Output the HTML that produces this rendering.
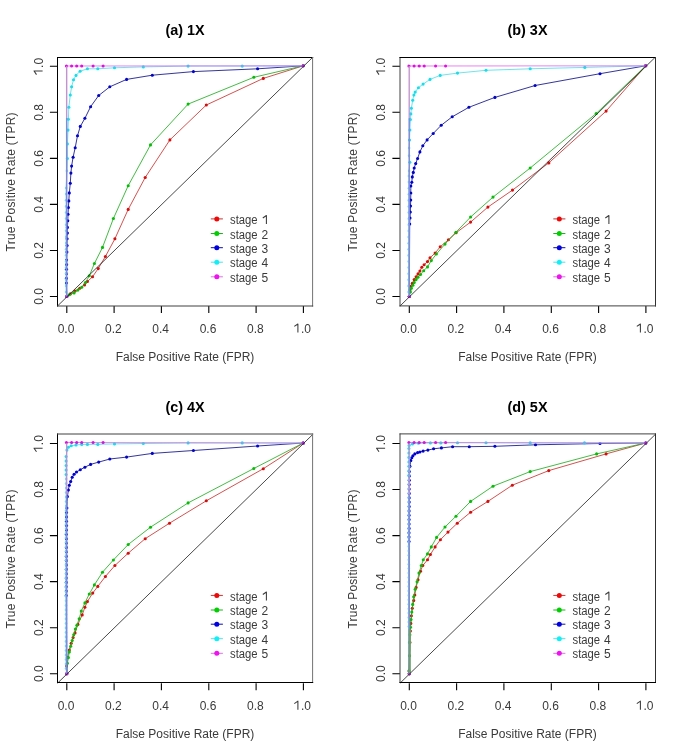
<!DOCTYPE html>
<html><head><meta charset="utf-8"><style>
html,body{margin:0;padding:0;background:#fff;}
svg{display:block;will-change:transform;}
.t{font-family:"Liberation Sans",sans-serif;font-size:12px;fill:#3a3a3a;}
.b{font-family:"Liberation Sans",sans-serif;font-size:14.4px;font-weight:bold;fill:#000;}
</style></head><body>
<svg width="685" height="754" viewBox="0 0 685 754">
<defs><filter id="jc" x="-20" y="-20" width="725" height="794" filterUnits="userSpaceOnUse" color-interpolation-filters="sRGB">
<feColorMatrix in="SourceGraphic" type="matrix" values="0.299 0.587 0.114 0 0 0.299 0.587 0.114 0 0 0.299 0.587 0.114 0 0 0 0 0 1 0" result="Y"/>
<feColorMatrix in="SourceGraphic" type="matrix" values="0.3505 -0.2935 -0.057 0 0.50196 -0.1495 0.2065 -0.057 0 0.50196 -0.1495 -0.2935 0.443 0 0.50196 0 0 0 1 0" result="C"/>
<feGaussianBlur in="C" stdDeviation="0.8" result="Cb"/>
<feComposite in="Y" in2="Cb" operator="arithmetic" k1="0" k2="1" k3="2" k4="-1.00392"/>
</filter></defs>
<g filter="url(#jc)">
<rect x="-20" y="-20" width="725" height="794" fill="#fff"/>
<g transform="translate(0,0)">
<polyline fill="none" stroke="#d03030" stroke-width="0.85" points="66.8,296.5 70.3,293.9 75,291 79.8,288.2 84.5,284.9 87.4,281.5 92.5,276.8 98.2,268.6 105.4,256.5 114.9,238.8 128.2,209.4 145.2,177.5 169.9,139.9 206.3,105 263.3,78.4 303.2,65.8"/>
<g fill="#e00808"><circle cx="66.8" cy="296.5" r="1.55"/><circle cx="70.3" cy="293.9" r="1.55"/><circle cx="75" cy="291" r="1.55"/><circle cx="79.8" cy="288.2" r="1.55"/><circle cx="84.5" cy="284.9" r="1.55"/><circle cx="87.4" cy="281.5" r="1.55"/><circle cx="92.5" cy="276.8" r="1.55"/><circle cx="98.2" cy="268.6" r="1.55"/><circle cx="105.4" cy="256.5" r="1.55"/><circle cx="114.9" cy="238.8" r="1.55"/><circle cx="128.2" cy="209.4" r="1.55"/><circle cx="145.2" cy="177.5" r="1.55"/><circle cx="169.9" cy="139.9" r="1.55"/><circle cx="206.3" cy="105" r="1.55"/><circle cx="263.3" cy="78.4" r="1.55"/><circle cx="303.2" cy="65.8" r="1.55"/></g>
<polyline fill="none" stroke="#20b020" stroke-width="0.85" points="66.8,296.5 69.3,294.8 74.1,292.9 77.9,290.1 81.7,287.2 85.5,282.5 89.3,275.8 94.4,263.5 102.5,247.4 113.4,218.5 128.2,185.7 150.5,144.9 188.1,104.1 253.8,77.3 303.2,65.8"/>
<g fill="#00c000"><circle cx="66.8" cy="296.5" r="1.55"/><circle cx="69.3" cy="294.8" r="1.55"/><circle cx="74.1" cy="292.9" r="1.55"/><circle cx="77.9" cy="290.1" r="1.55"/><circle cx="81.7" cy="287.2" r="1.55"/><circle cx="85.5" cy="282.5" r="1.55"/><circle cx="89.3" cy="275.8" r="1.55"/><circle cx="94.4" cy="263.5" r="1.55"/><circle cx="102.5" cy="247.4" r="1.55"/><circle cx="113.4" cy="218.5" r="1.55"/><circle cx="128.2" cy="185.7" r="1.55"/><circle cx="150.5" cy="144.9" r="1.55"/><circle cx="188.1" cy="104.1" r="1.55"/><circle cx="253.8" cy="77.3" r="1.55"/><circle cx="303.2" cy="65.8" r="1.55"/></g>
<polyline fill="none" stroke="#101090" stroke-width="0.85" points="66.8,296.5 66.4,283 66.4,278.4 66.5,273.8 66.5,269.2 66.6,264.6 66.6,260 66.9,252.1 67.1,245.5 67.1,238.8 67.4,233.1 67.4,227.4 67.8,220.8 68,214.2 68.4,207.5 68.8,200.9 69.3,192.9 70.3,183.2 70.9,173.1 71.6,166.1 73.1,157.2 75.2,147.7 77.5,135.7 80.3,126.4 84.9,118.3 90.6,106.7 98.7,95.5 109.8,86.8 126.6,79.4 152.3,75.2 193.4,71.6 257.6,68.8 303.2,65.8"/>
<g fill="#0000d8"><circle cx="66.8" cy="296.5" r="1.55"/><circle cx="66.4" cy="283" r="1.55"/><circle cx="66.4" cy="278.4" r="1.55"/><circle cx="66.5" cy="273.8" r="1.55"/><circle cx="66.5" cy="269.2" r="1.55"/><circle cx="66.6" cy="264.6" r="1.55"/><circle cx="66.6" cy="260" r="1.55"/><circle cx="66.9" cy="252.1" r="1.55"/><circle cx="67.1" cy="245.5" r="1.55"/><circle cx="67.1" cy="238.8" r="1.55"/><circle cx="67.4" cy="233.1" r="1.55"/><circle cx="67.4" cy="227.4" r="1.55"/><circle cx="67.8" cy="220.8" r="1.55"/><circle cx="68" cy="214.2" r="1.55"/><circle cx="68.4" cy="207.5" r="1.55"/><circle cx="68.8" cy="200.9" r="1.55"/><circle cx="69.3" cy="192.9" r="1.55"/><circle cx="70.3" cy="183.2" r="1.55"/><circle cx="70.9" cy="173.1" r="1.55"/><circle cx="71.6" cy="166.1" r="1.55"/><circle cx="73.1" cy="157.2" r="1.55"/><circle cx="75.2" cy="147.7" r="1.55"/><circle cx="77.5" cy="135.7" r="1.55"/><circle cx="80.3" cy="126.4" r="1.55"/><circle cx="84.9" cy="118.3" r="1.55"/><circle cx="90.6" cy="106.7" r="1.55"/><circle cx="98.7" cy="95.5" r="1.55"/><circle cx="109.8" cy="86.8" r="1.55"/><circle cx="126.6" cy="79.4" r="1.55"/><circle cx="152.3" cy="75.2" r="1.55"/><circle cx="193.4" cy="71.6" r="1.55"/><circle cx="257.6" cy="68.8" r="1.55"/><circle cx="303.2" cy="65.8" r="1.55"/></g>
<polyline fill="none" stroke="#50e0ec" stroke-width="0.85" points="66.8,296.5 66.1,292 66.1,285.9 66.1,279.8 66.1,273.6 66.1,267.5 66.1,261.4 66.1,255.3 66.1,249.2 66.1,243.1 66.1,236.9 66.1,230.8 66.1,224.7 66.1,218.6 66.1,212.5 66.1,206.4 66.1,200.2 66.1,194.1 66.1,188 66.9,170.9 67.4,158.5 67.4,143.9 68,130.1 68.4,119.2 68.8,107.3 70.3,95 71.6,86.8 73.5,79.8 76,75.4 80.1,71.2 87.4,68.8 97.8,68.8 114.5,67.8 143.3,66.9 188.1,66.1 242.2,66.1 303.2,65.8"/>
<g fill="#72d4ee"><circle cx="66.8" cy="296.5" r="1.3"/><circle cx="66.1" cy="292" r="1.3"/><circle cx="66.1" cy="285.9" r="1.3"/><circle cx="66.1" cy="279.8" r="1.3"/><circle cx="66.1" cy="273.6" r="1.3"/><circle cx="66.1" cy="267.5" r="1.3"/><circle cx="66.1" cy="261.4" r="1.3"/><circle cx="66.1" cy="255.3" r="1.3"/><circle cx="66.1" cy="249.2" r="1.3"/><circle cx="66.1" cy="243.1" r="1.3"/><circle cx="66.1" cy="236.9" r="1.3"/><circle cx="66.1" cy="230.8" r="1.3"/><circle cx="66.1" cy="224.7" r="1.3"/><circle cx="66.1" cy="218.6" r="1.3"/><circle cx="66.1" cy="212.5" r="1.3"/><circle cx="66.1" cy="206.4" r="1.3"/><circle cx="66.1" cy="200.2" r="1.3"/><circle cx="66.1" cy="194.1" r="1.3"/><circle cx="66.1" cy="188" r="1.3"/><circle cx="66.9" cy="170.9" r="1.3"/></g>
<g fill="#10e0f0"><circle cx="67.4" cy="158.5" r="1.55"/><circle cx="67.4" cy="143.9" r="1.55"/><circle cx="68" cy="130.1" r="1.55"/><circle cx="68.4" cy="119.2" r="1.55"/><circle cx="68.8" cy="107.3" r="1.55"/><circle cx="70.3" cy="95" r="1.55"/><circle cx="71.6" cy="86.8" r="1.55"/><circle cx="73.5" cy="79.8" r="1.55"/><circle cx="76" cy="75.4" r="1.55"/><circle cx="80.1" cy="71.2" r="1.55"/><circle cx="87.4" cy="68.8" r="1.55"/><circle cx="97.8" cy="68.8" r="1.55"/><circle cx="114.5" cy="67.8" r="1.55"/><circle cx="143.3" cy="66.9" r="1.55"/><circle cx="188.1" cy="66.1" r="1.55"/><circle cx="242.2" cy="66.1" r="1.55"/><circle cx="303.2" cy="65.8" r="1.55"/></g>
<polyline fill="none" stroke="#e070e8" stroke-width="0.85" points="66.7,66 303.2,65.8"/>
<g fill="#e010e0"><circle cx="66.8" cy="296.5" r="1.55"/><circle cx="66.4" cy="66" r="1.55"/><circle cx="71.6" cy="66" r="1.55"/><circle cx="76.7" cy="66" r="1.55"/><circle cx="81.7" cy="66" r="1.55"/><circle cx="93.1" cy="66" r="1.55"/><circle cx="103.1" cy="66" r="1.55"/><circle cx="303.2" cy="65.8" r="1.55"/></g>
<line x1="66.7" y1="296.5" x2="66.7" y2="118" stroke="#8088e6" stroke-width="1.5"/>
<line x1="66.7" y1="118" x2="66.7" y2="66" stroke="#c888d8" stroke-width="1.3"/>
<line x1="57.5" y1="306.0" x2="312.5" y2="57.5" stroke="#1a1a1a" stroke-width="0.8"/>
<path d="M66.8 306V313M49.9 296.5H57.5M114.1 306V313M49.9 250.5H57.5M161.4 306V313M49.9 204.4H57.5M208.8 306V313M49.9 158.4H57.5M256.1 306V313M49.9 112.3H57.5M303.4 306V313M49.9 66.3H57.5" stroke="#000" stroke-width="1.1" fill="none"/>
<text x="66" y="332.5" text-anchor="middle" class="t">0.0</text>
<text transform="translate(42.6,296.5) rotate(-90)" text-anchor="middle" class="t">0.0</text>
<text x="113.3" y="332.5" text-anchor="middle" class="t">0.2</text>
<text transform="translate(42.6,250.5) rotate(-90)" text-anchor="middle" class="t">0.2</text>
<text x="160.6" y="332.5" text-anchor="middle" class="t">0.4</text>
<text transform="translate(42.6,204.4) rotate(-90)" text-anchor="middle" class="t">0.4</text>
<text x="208" y="332.5" text-anchor="middle" class="t">0.6</text>
<text transform="translate(42.6,158.4) rotate(-90)" text-anchor="middle" class="t">0.6</text>
<text x="255.3" y="332.5" text-anchor="middle" class="t">0.8</text>
<text transform="translate(42.6,112.3) rotate(-90)" text-anchor="middle" class="t">0.8</text>
<g transform="translate(302.6,332.5) rotate(0)"><path d="M-8.3,-6.1L-4.7,-8.55V0" fill="none" stroke="#3a3a3a" stroke-width="1.05" stroke-linejoin="round"/><text x="-1.67" y="0" class="t">.0</text></g>
<g transform="translate(42.6,66.3) rotate(-90)"><path d="M-8.3,-6.1L-4.7,-8.55V0" fill="none" stroke="#3a3a3a" stroke-width="1.05" stroke-linejoin="round"/><text x="-1.67" y="0" class="t">.0</text></g>
<text x="185" y="360.7" text-anchor="middle" class="t">False Positive Rate (FPR)</text>
<text transform="translate(14.7,181.9) rotate(-90)" text-anchor="middle" class="t" textLength="139" lengthAdjust="spacing">True Positive Rate (TPR)</text>
<text x="185" y="34.5" text-anchor="middle" class="b">(a) 1X</text>
<line x1="210.8" x2="222.9" y1="218.9" y2="218.9" stroke="#d03030" stroke-width="1"/>
<circle cx="216.8" cy="218.9" r="2.5" fill="#f00808"/>
<text x="230" y="224.1" class="t" textLength="27.6" lengthAdjust="spacingAndGlyphs">stage</text><g transform="translate(0,224.1)"><path d="M262.8,-6.1L266.4,-8.55V0" fill="none" stroke="#3a3a3a" stroke-width="1.05" stroke-linejoin="round"/></g>
<line x1="210.8" x2="222.9" y1="233.5" y2="233.5" stroke="#20b020" stroke-width="1"/>
<circle cx="216.8" cy="233.5" r="2.5" fill="#00d000"/>
<text x="230" y="238.7" class="t" textLength="27.6" lengthAdjust="spacingAndGlyphs">stage</text><text x="268.2" y="238.7" class="t" text-anchor="end">2</text>
<line x1="210.8" x2="222.9" y1="247.7" y2="247.7" stroke="#101090" stroke-width="1"/>
<circle cx="216.8" cy="247.7" r="2.5" fill="#0000e8"/>
<text x="230" y="252.9" class="t" textLength="27.6" lengthAdjust="spacingAndGlyphs">stage</text><text x="268.2" y="252.9" class="t" text-anchor="end">3</text>
<line x1="210.8" x2="222.9" y1="262.2" y2="262.2" stroke="#50e0ec" stroke-width="1"/>
<circle cx="216.8" cy="262.2" r="2.5" fill="#10f0f8"/>
<text x="230" y="267.4" class="t" textLength="27.6" lengthAdjust="spacingAndGlyphs">stage</text><text x="268.2" y="267.4" class="t" text-anchor="end">4</text>
<line x1="210.8" x2="222.9" y1="276.8" y2="276.8" stroke="#e070e8" stroke-width="1"/>
<circle cx="216.8" cy="276.8" r="2.5" fill="#f010f0"/>
<text x="230" y="282" class="t" textLength="27.6" lengthAdjust="spacingAndGlyphs">stage</text><text x="268.2" y="282" class="t" text-anchor="end">5</text>
</g>
<g transform="translate(342.5,0)">
<polyline fill="none" stroke="#d03030" stroke-width="0.85" points="66.8,296.5 67.3,290 67.9,286.3 69.8,283.4 71.7,279.6 73.6,276.8 75.5,273.9 77.4,271.1 79.3,267.3 81.6,264.8 85,261.6 87.5,257.8 92.6,253.1 97.7,246.8 105.9,239.8 113.5,232.8 128.1,222.1 145.4,207.1 170,190.1 206.3,162.9 263.6,111.1 303.2,65.8"/>
<g fill="#e00808"><circle cx="66.8" cy="296.5" r="1.55"/><circle cx="67.3" cy="290" r="1.55"/><circle cx="67.9" cy="286.3" r="1.55"/><circle cx="69.8" cy="283.4" r="1.55"/><circle cx="71.7" cy="279.6" r="1.55"/><circle cx="73.6" cy="276.8" r="1.55"/><circle cx="75.5" cy="273.9" r="1.55"/><circle cx="77.4" cy="271.1" r="1.55"/><circle cx="79.3" cy="267.3" r="1.55"/><circle cx="81.6" cy="264.8" r="1.55"/><circle cx="85" cy="261.6" r="1.55"/><circle cx="87.5" cy="257.8" r="1.55"/><circle cx="92.6" cy="253.1" r="1.55"/><circle cx="97.7" cy="246.8" r="1.55"/><circle cx="105.9" cy="239.8" r="1.55"/><circle cx="113.5" cy="232.8" r="1.55"/><circle cx="128.1" cy="222.1" r="1.55"/><circle cx="145.4" cy="207.1" r="1.55"/><circle cx="170" cy="190.1" r="1.55"/><circle cx="206.3" cy="162.9" r="1.55"/><circle cx="263.6" cy="111.1" r="1.55"/><circle cx="303.2" cy="65.8" r="1.55"/></g>
<polyline fill="none" stroke="#20b020" stroke-width="0.85" points="66.8,296.5 67.9,292 68.9,288.2 70.4,285.3 71.7,282.5 73.6,279.6 75.5,277.2 78,274.5 81.2,270.7 85,266.9 88.8,260.6 93.9,254 102.5,244.1 113.5,232.2 128.1,217 150.5,197.1 187.7,168 253.7,113.5 303.2,65.8"/>
<g fill="#00c000"><circle cx="66.8" cy="296.5" r="1.55"/><circle cx="67.9" cy="292" r="1.55"/><circle cx="68.9" cy="288.2" r="1.55"/><circle cx="70.4" cy="285.3" r="1.55"/><circle cx="71.7" cy="282.5" r="1.55"/><circle cx="73.6" cy="279.6" r="1.55"/><circle cx="75.5" cy="277.2" r="1.55"/><circle cx="78" cy="274.5" r="1.55"/><circle cx="81.2" cy="270.7" r="1.55"/><circle cx="85" cy="266.9" r="1.55"/><circle cx="88.8" cy="260.6" r="1.55"/><circle cx="93.9" cy="254" r="1.55"/><circle cx="102.5" cy="244.1" r="1.55"/><circle cx="113.5" cy="232.2" r="1.55"/><circle cx="128.1" cy="217" r="1.55"/><circle cx="150.5" cy="197.1" r="1.55"/><circle cx="187.7" cy="168" r="1.55"/><circle cx="253.7" cy="113.5" r="1.55"/><circle cx="303.2" cy="65.8" r="1.55"/></g>
<polyline fill="none" stroke="#101090" stroke-width="0.85" points="66.8,296.5 67.2,224 67.5,218 67.8,212 68,206 68.2,200 68.3,193 68.3,186 69.3,182.2 69.8,176.9 70.8,172.4 71.7,168 73.2,163.6 75.1,158.5 77.4,151.9 80.3,145.8 84.6,139.9 90.7,133.5 98.7,125.3 109.7,116.8 126.4,107.3 152.4,97.4 192.6,85.5 257.5,73.7 303.2,65.8"/>
<g fill="#0000d8"><circle cx="66.8" cy="296.5" r="1.55"/><circle cx="67.2" cy="224" r="1.55"/><circle cx="67.5" cy="218" r="1.55"/><circle cx="67.8" cy="212" r="1.55"/><circle cx="68" cy="206" r="1.55"/><circle cx="68.2" cy="200" r="1.55"/><circle cx="68.3" cy="193" r="1.55"/><circle cx="68.3" cy="186" r="1.55"/><circle cx="69.3" cy="182.2" r="1.55"/><circle cx="69.8" cy="176.9" r="1.55"/><circle cx="70.8" cy="172.4" r="1.55"/><circle cx="71.7" cy="168" r="1.55"/><circle cx="73.2" cy="163.6" r="1.55"/><circle cx="75.1" cy="158.5" r="1.55"/><circle cx="77.4" cy="151.9" r="1.55"/><circle cx="80.3" cy="145.8" r="1.55"/><circle cx="84.6" cy="139.9" r="1.55"/><circle cx="90.7" cy="133.5" r="1.55"/><circle cx="98.7" cy="125.3" r="1.55"/><circle cx="109.7" cy="116.8" r="1.55"/><circle cx="126.4" cy="107.3" r="1.55"/><circle cx="152.4" cy="97.4" r="1.55"/><circle cx="192.6" cy="85.5" r="1.55"/><circle cx="257.5" cy="73.7" r="1.55"/><circle cx="303.2" cy="65.8" r="1.55"/></g>
<polyline fill="none" stroke="#50e0ec" stroke-width="0.85" points="66.8,296.5 66.1,292 66.1,285.9 66.1,279.8 66.1,273.7 66.2,267.6 66.2,261.5 66.2,255.4 66.2,249.3 66.2,243.2 66.2,237.1 66.3,230.9 66.3,224.8 66.3,218.7 66.3,212.6 66.3,206.5 66.3,200.4 66.4,194.3 66.4,188.2 66.4,182.1 66.4,176 66.6,170.9 67.4,162.3 66.6,155.7 66.6,148 67,140 67.4,130 67.9,119.6 68.3,113.9 68.9,108.2 70.2,100.3 71.4,95 72.7,92.1 75.9,87.7 80.6,84.1 87.5,79.4 97.7,75.4 115,73.1 143.5,70.3 187.7,68.8 242.3,67.4 303.2,65.8"/>
<g fill="#72d4ee"><circle cx="66.8" cy="296.5" r="1.3"/><circle cx="66.1" cy="292" r="1.3"/><circle cx="66.1" cy="285.9" r="1.3"/><circle cx="66.1" cy="279.8" r="1.3"/><circle cx="66.1" cy="273.7" r="1.3"/><circle cx="66.2" cy="267.6" r="1.3"/><circle cx="66.2" cy="261.5" r="1.3"/><circle cx="66.2" cy="255.4" r="1.3"/><circle cx="66.2" cy="249.3" r="1.3"/><circle cx="66.2" cy="243.2" r="1.3"/><circle cx="66.2" cy="237.1" r="1.3"/><circle cx="66.3" cy="230.9" r="1.3"/><circle cx="66.3" cy="224.8" r="1.3"/><circle cx="66.3" cy="218.7" r="1.3"/><circle cx="66.3" cy="212.6" r="1.3"/><circle cx="66.3" cy="206.5" r="1.3"/><circle cx="66.3" cy="200.4" r="1.3"/><circle cx="66.4" cy="194.3" r="1.3"/><circle cx="66.4" cy="188.2" r="1.3"/><circle cx="66.4" cy="182.1" r="1.3"/><circle cx="66.4" cy="176" r="1.3"/><circle cx="66.6" cy="170.9" r="1.3"/><circle cx="66.6" cy="155.7" r="1.3"/><circle cx="66.6" cy="148" r="1.3"/></g>
<g fill="#10e0f0"><circle cx="67.4" cy="162.3" r="1.55"/><circle cx="67" cy="140" r="1.55"/><circle cx="67.4" cy="130" r="1.55"/><circle cx="67.9" cy="119.6" r="1.55"/><circle cx="68.3" cy="113.9" r="1.55"/><circle cx="68.9" cy="108.2" r="1.55"/><circle cx="70.2" cy="100.3" r="1.55"/><circle cx="71.4" cy="95" r="1.55"/><circle cx="72.7" cy="92.1" r="1.55"/><circle cx="75.9" cy="87.7" r="1.55"/><circle cx="80.6" cy="84.1" r="1.55"/><circle cx="87.5" cy="79.4" r="1.55"/><circle cx="97.7" cy="75.4" r="1.55"/><circle cx="115" cy="73.1" r="1.55"/><circle cx="143.5" cy="70.3" r="1.55"/><circle cx="187.7" cy="68.8" r="1.55"/><circle cx="242.3" cy="67.4" r="1.55"/><circle cx="303.2" cy="65.8" r="1.55"/></g>
<polyline fill="none" stroke="#e070e8" stroke-width="0.85" points="66.7,66 303.2,65.8"/>
<g fill="#e010e0"><circle cx="66.8" cy="296.5" r="1.55"/><circle cx="66.4" cy="66" r="1.55"/><circle cx="71.6" cy="66" r="1.55"/><circle cx="76.7" cy="66" r="1.55"/><circle cx="81.7" cy="66" r="1.55"/><circle cx="93.1" cy="66" r="1.55"/><circle cx="103.1" cy="66" r="1.55"/><circle cx="303.2" cy="65.8" r="1.55"/></g>
<line x1="66.7" y1="296.5" x2="66.7" y2="118" stroke="#8088e6" stroke-width="1.5"/>
<line x1="66.7" y1="118" x2="66.7" y2="66" stroke="#c888d8" stroke-width="1.3"/>
<line x1="57.5" y1="306.0" x2="312.5" y2="57.5" stroke="#1a1a1a" stroke-width="0.8"/>
<path d="M66.8 306V313M49.9 296.5H57.5M114.1 306V313M49.9 250.5H57.5M161.4 306V313M49.9 204.4H57.5M208.8 306V313M49.9 158.4H57.5M256.1 306V313M49.9 112.3H57.5M303.4 306V313M49.9 66.3H57.5" stroke="#000" stroke-width="1.1" fill="none"/>
<text x="66" y="332.5" text-anchor="middle" class="t">0.0</text>
<text transform="translate(42.6,296.5) rotate(-90)" text-anchor="middle" class="t">0.0</text>
<text x="113.3" y="332.5" text-anchor="middle" class="t">0.2</text>
<text transform="translate(42.6,250.5) rotate(-90)" text-anchor="middle" class="t">0.2</text>
<text x="160.6" y="332.5" text-anchor="middle" class="t">0.4</text>
<text transform="translate(42.6,204.4) rotate(-90)" text-anchor="middle" class="t">0.4</text>
<text x="208" y="332.5" text-anchor="middle" class="t">0.6</text>
<text transform="translate(42.6,158.4) rotate(-90)" text-anchor="middle" class="t">0.6</text>
<text x="255.3" y="332.5" text-anchor="middle" class="t">0.8</text>
<text transform="translate(42.6,112.3) rotate(-90)" text-anchor="middle" class="t">0.8</text>
<g transform="translate(302.6,332.5) rotate(0)"><path d="M-8.3,-6.1L-4.7,-8.55V0" fill="none" stroke="#3a3a3a" stroke-width="1.05" stroke-linejoin="round"/><text x="-1.67" y="0" class="t">.0</text></g>
<g transform="translate(42.6,66.3) rotate(-90)"><path d="M-8.3,-6.1L-4.7,-8.55V0" fill="none" stroke="#3a3a3a" stroke-width="1.05" stroke-linejoin="round"/><text x="-1.67" y="0" class="t">.0</text></g>
<text x="185" y="360.7" text-anchor="middle" class="t">False Positive Rate (FPR)</text>
<text transform="translate(14.7,181.9) rotate(-90)" text-anchor="middle" class="t" textLength="139" lengthAdjust="spacing">True Positive Rate (TPR)</text>
<text x="185" y="34.5" text-anchor="middle" class="b">(b) 3X</text>
<line x1="210.8" x2="222.9" y1="218.9" y2="218.9" stroke="#d03030" stroke-width="1"/>
<circle cx="216.8" cy="218.9" r="2.5" fill="#f00808"/>
<text x="230" y="224.1" class="t" textLength="27.6" lengthAdjust="spacingAndGlyphs">stage</text><g transform="translate(0,224.1)"><path d="M262.8,-6.1L266.4,-8.55V0" fill="none" stroke="#3a3a3a" stroke-width="1.05" stroke-linejoin="round"/></g>
<line x1="210.8" x2="222.9" y1="233.5" y2="233.5" stroke="#20b020" stroke-width="1"/>
<circle cx="216.8" cy="233.5" r="2.5" fill="#00d000"/>
<text x="230" y="238.7" class="t" textLength="27.6" lengthAdjust="spacingAndGlyphs">stage</text><text x="268.2" y="238.7" class="t" text-anchor="end">2</text>
<line x1="210.8" x2="222.9" y1="247.7" y2="247.7" stroke="#101090" stroke-width="1"/>
<circle cx="216.8" cy="247.7" r="2.5" fill="#0000e8"/>
<text x="230" y="252.9" class="t" textLength="27.6" lengthAdjust="spacingAndGlyphs">stage</text><text x="268.2" y="252.9" class="t" text-anchor="end">3</text>
<line x1="210.8" x2="222.9" y1="262.2" y2="262.2" stroke="#50e0ec" stroke-width="1"/>
<circle cx="216.8" cy="262.2" r="2.5" fill="#10f0f8"/>
<text x="230" y="267.4" class="t" textLength="27.6" lengthAdjust="spacingAndGlyphs">stage</text><text x="268.2" y="267.4" class="t" text-anchor="end">4</text>
<line x1="210.8" x2="222.9" y1="276.8" y2="276.8" stroke="#e070e8" stroke-width="1"/>
<circle cx="216.8" cy="276.8" r="2.5" fill="#f010f0"/>
<text x="230" y="282" class="t" textLength="27.6" lengthAdjust="spacingAndGlyphs">stage</text><text x="268.2" y="282" class="t" text-anchor="end">5</text>
</g>
<g transform="translate(0,377.2)">
<polyline fill="none" stroke="#d03030" stroke-width="0.85" points="66.8,296.5 66.5,288.9 67.4,280.4 69.3,272.8 71.2,266.1 73.1,260.4 75,255.7 77.9,247.2 82.2,237.7 84.9,230.1 87.4,224.4 92.7,215.9 97.8,209.2 105.4,199.3 114.9,188.3 128.2,176 145.2,161.5 169.5,146 206.3,123.6 263.3,91.5 303.2,65.8"/>
<g fill="#e00808"><circle cx="66.8" cy="296.5" r="1.55"/><circle cx="66.5" cy="288.9" r="1.55"/><circle cx="67.4" cy="280.4" r="1.55"/><circle cx="69.3" cy="272.8" r="1.55"/><circle cx="71.2" cy="266.1" r="1.55"/><circle cx="73.1" cy="260.4" r="1.55"/><circle cx="75" cy="255.7" r="1.55"/><circle cx="77.9" cy="247.2" r="1.55"/><circle cx="82.2" cy="237.7" r="1.55"/><circle cx="84.9" cy="230.1" r="1.55"/><circle cx="87.4" cy="224.4" r="1.55"/><circle cx="92.7" cy="215.9" r="1.55"/><circle cx="97.8" cy="209.2" r="1.55"/><circle cx="105.4" cy="199.3" r="1.55"/><circle cx="114.9" cy="188.3" r="1.55"/><circle cx="128.2" cy="176" r="1.55"/><circle cx="145.2" cy="161.5" r="1.55"/><circle cx="169.5" cy="146" r="1.55"/><circle cx="206.3" cy="123.6" r="1.55"/><circle cx="263.3" cy="91.5" r="1.55"/><circle cx="303.2" cy="65.8" r="1.55"/></g>
<polyline fill="none" stroke="#20b020" stroke-width="0.85" points="66.8,296.5 67.4,286.1 68.4,280.4 69.3,274.7 70.7,269 72.2,263.3 73.7,257.6 75.4,251.9 76.9,248.1 79.2,241.5 81.3,233.9 84.9,225.7 89.3,216.8 94.4,207.7 102.5,195 113.4,182.8 128.2,167.3 150.5,150 188.1,125.7 253.8,91.3 303.2,65.8"/>
<g fill="#00c000"><circle cx="66.8" cy="296.5" r="1.55"/><circle cx="67.4" cy="286.1" r="1.55"/><circle cx="68.4" cy="280.4" r="1.55"/><circle cx="69.3" cy="274.7" r="1.55"/><circle cx="70.7" cy="269" r="1.55"/><circle cx="72.2" cy="263.3" r="1.55"/><circle cx="73.7" cy="257.6" r="1.55"/><circle cx="75.4" cy="251.9" r="1.55"/><circle cx="76.9" cy="248.1" r="1.55"/><circle cx="79.2" cy="241.5" r="1.55"/><circle cx="81.3" cy="233.9" r="1.55"/><circle cx="84.9" cy="225.7" r="1.55"/><circle cx="89.3" cy="216.8" r="1.55"/><circle cx="94.4" cy="207.7" r="1.55"/><circle cx="102.5" cy="195" r="1.55"/><circle cx="113.4" cy="182.8" r="1.55"/><circle cx="128.2" cy="167.3" r="1.55"/><circle cx="150.5" cy="150" r="1.55"/><circle cx="188.1" cy="125.7" r="1.55"/><circle cx="253.8" cy="91.3" r="1.55"/><circle cx="303.2" cy="65.8" r="1.55"/></g>
<polyline fill="none" stroke="#101090" stroke-width="0.85" points="66.8,296.5 66.3,218.3 66.3,213.9 66.3,209.6 66.3,205.2 66.3,200.8 66.4,196.5 66.4,192.1 66.4,187.7 66.4,183.3 66.4,179 66.4,174.6 66.4,170.2 66.4,165.9 66.4,161.5 66.4,157.1 66.5,152.8 66.5,148.4 66.5,144 66.5,139.7 66.5,135.3 66.9,130.8 67.4,119.4 68.4,112.8 69.3,108 70.7,104.3 72.2,100.1 74.1,97 76.5,94.8 80.3,92.5 84.9,90 90.6,87.2 98.7,84.9 109.8,81.8 126.6,79.9 152.3,76.2 193.4,73.3 257.6,68.8 303.2,65.8"/>
<g fill="#0000d8"><circle cx="66.8" cy="296.5" r="1.55"/><circle cx="66.3" cy="218.3" r="1.55"/><circle cx="66.3" cy="213.9" r="1.55"/><circle cx="66.3" cy="209.6" r="1.55"/><circle cx="66.3" cy="205.2" r="1.55"/><circle cx="66.3" cy="200.8" r="1.55"/><circle cx="66.4" cy="196.5" r="1.55"/><circle cx="66.4" cy="192.1" r="1.55"/><circle cx="66.4" cy="187.7" r="1.55"/><circle cx="66.4" cy="183.3" r="1.55"/><circle cx="66.4" cy="179" r="1.55"/><circle cx="66.4" cy="174.6" r="1.55"/><circle cx="66.4" cy="170.2" r="1.55"/><circle cx="66.4" cy="165.9" r="1.55"/><circle cx="66.4" cy="161.5" r="1.55"/><circle cx="66.4" cy="157.1" r="1.55"/><circle cx="66.5" cy="152.8" r="1.55"/><circle cx="66.5" cy="148.4" r="1.55"/><circle cx="66.5" cy="144" r="1.55"/><circle cx="66.5" cy="139.7" r="1.55"/><circle cx="66.5" cy="135.3" r="1.55"/><circle cx="66.9" cy="130.8" r="1.55"/><circle cx="67.4" cy="119.4" r="1.55"/><circle cx="68.4" cy="112.8" r="1.55"/><circle cx="69.3" cy="108" r="1.55"/><circle cx="70.7" cy="104.3" r="1.55"/><circle cx="72.2" cy="100.1" r="1.55"/><circle cx="74.1" cy="97" r="1.55"/><circle cx="76.5" cy="94.8" r="1.55"/><circle cx="80.3" cy="92.5" r="1.55"/><circle cx="84.9" cy="90" r="1.55"/><circle cx="90.6" cy="87.2" r="1.55"/><circle cx="98.7" cy="84.9" r="1.55"/><circle cx="109.8" cy="81.8" r="1.55"/><circle cx="126.6" cy="79.9" r="1.55"/><circle cx="152.3" cy="76.2" r="1.55"/><circle cx="193.4" cy="73.3" r="1.55"/><circle cx="257.6" cy="68.8" r="1.55"/><circle cx="303.2" cy="65.8" r="1.55"/></g>
<polyline fill="none" stroke="#50e0ec" stroke-width="0.85" points="66.8,296.5 66,291.3 66,286.8 66,282.3 66,277.8 66,273.3 66,268.8 66,264.2 66,259.7 66,255.2 66,250.7 66,246.2 66,241.7 66,237.2 66,232.7 66,228.2 66,223.6 66,219.1 66,214.6 66,210.1 66,205.6 66,201.1 66,196.6 66,192.1 66,187.6 66.1,183 66.1,178.5 66.1,174 66.1,169.5 66.1,165 66.1,160.5 66.1,156 66.1,151.5 66.1,147 66.1,142.4 66.1,137.9 66.1,133.4 66.1,128.9 66.1,124.4 66.1,119.9 66.1,115.4 66.1,110.9 66.1,106.4 66.1,101.8 66.1,97.3 66.1,92.8 66.1,88.3 66.1,83.8 66.1,79.3 66.9,72.9 68.4,70.1 71.2,68.6 76,67.8 81.7,67.2 87.4,67.2 97.8,67.2 114.5,66.7 143.3,66.3 188.1,65.7 242.2,65.7 303.2,65.8"/>
<g fill="#72d4ee"><circle cx="66.8" cy="296.5" r="1.3"/><circle cx="66" cy="291.3" r="1.3"/><circle cx="66" cy="286.8" r="1.3"/><circle cx="66" cy="282.3" r="1.3"/><circle cx="66" cy="277.8" r="1.3"/><circle cx="66" cy="273.3" r="1.3"/><circle cx="66" cy="268.8" r="1.3"/><circle cx="66" cy="264.2" r="1.3"/><circle cx="66" cy="259.7" r="1.3"/><circle cx="66" cy="255.2" r="1.3"/><circle cx="66" cy="250.7" r="1.3"/><circle cx="66" cy="246.2" r="1.3"/><circle cx="66" cy="241.7" r="1.3"/><circle cx="66" cy="237.2" r="1.3"/><circle cx="66" cy="232.7" r="1.3"/><circle cx="66" cy="228.2" r="1.3"/><circle cx="66" cy="223.6" r="1.3"/><circle cx="66" cy="219.1" r="1.3"/><circle cx="66" cy="214.6" r="1.3"/><circle cx="66" cy="210.1" r="1.3"/><circle cx="66" cy="205.6" r="1.3"/><circle cx="66" cy="201.1" r="1.3"/><circle cx="66" cy="196.6" r="1.3"/><circle cx="66" cy="192.1" r="1.3"/><circle cx="66" cy="187.6" r="1.3"/><circle cx="66.1" cy="183" r="1.3"/><circle cx="66.1" cy="178.5" r="1.3"/><circle cx="66.1" cy="174" r="1.3"/><circle cx="66.1" cy="169.5" r="1.3"/><circle cx="66.1" cy="165" r="1.3"/><circle cx="66.1" cy="160.5" r="1.3"/><circle cx="66.1" cy="156" r="1.3"/><circle cx="66.1" cy="151.5" r="1.3"/><circle cx="66.1" cy="147" r="1.3"/><circle cx="66.1" cy="142.4" r="1.3"/><circle cx="66.1" cy="137.9" r="1.3"/><circle cx="66.1" cy="133.4" r="1.3"/><circle cx="66.1" cy="128.9" r="1.3"/><circle cx="66.1" cy="124.4" r="1.3"/><circle cx="66.1" cy="119.9" r="1.3"/><circle cx="66.1" cy="115.4" r="1.3"/><circle cx="66.1" cy="110.9" r="1.3"/><circle cx="66.1" cy="106.4" r="1.3"/><circle cx="66.1" cy="101.8" r="1.3"/></g>
<g fill="#10e0f0"><circle cx="66.1" cy="97.3" r="1.55"/><circle cx="66.1" cy="92.8" r="1.55"/><circle cx="66.1" cy="88.3" r="1.55"/><circle cx="66.1" cy="83.8" r="1.55"/><circle cx="66.1" cy="79.3" r="1.55"/><circle cx="66.9" cy="72.9" r="1.55"/><circle cx="68.4" cy="70.1" r="1.55"/><circle cx="71.2" cy="68.6" r="1.55"/><circle cx="76" cy="67.8" r="1.55"/><circle cx="81.7" cy="67.2" r="1.55"/><circle cx="87.4" cy="67.2" r="1.55"/><circle cx="97.8" cy="67.2" r="1.55"/><circle cx="114.5" cy="66.7" r="1.55"/><circle cx="143.3" cy="66.3" r="1.55"/><circle cx="188.1" cy="65.7" r="1.55"/><circle cx="242.2" cy="65.7" r="1.55"/><circle cx="303.2" cy="65.8" r="1.55"/></g>
<polyline fill="none" stroke="#e070e8" stroke-width="0.85" points="66.7,65.3 303.2,65.8"/>
<g fill="#e010e0"><circle cx="66.8" cy="296.5" r="1.55"/><circle cx="66.4" cy="65.3" r="1.55"/><circle cx="71.6" cy="65.3" r="1.55"/><circle cx="76.7" cy="65.3" r="1.55"/><circle cx="81.7" cy="65.3" r="1.55"/><circle cx="93.1" cy="65.3" r="1.55"/><circle cx="103.1" cy="65.3" r="1.55"/><circle cx="303.2" cy="65.8" r="1.55"/></g>
<line x1="66.7" y1="296.5" x2="66.7" y2="118" stroke="#8088e6" stroke-width="1.5"/>
<line x1="66.7" y1="118" x2="66.7" y2="66" stroke="#c888d8" stroke-width="1.3"/>
<line x1="57.5" y1="306.0" x2="312.5" y2="57.5" stroke="#1a1a1a" stroke-width="0.8"/>
<path d="M66.8 306V313M49.9 296.5H57.5M114.1 306V313M49.9 250.5H57.5M161.4 306V313M49.9 204.4H57.5M208.8 306V313M49.9 158.4H57.5M256.1 306V313M49.9 112.3H57.5M303.4 306V313M49.9 66.3H57.5" stroke="#000" stroke-width="1.1" fill="none"/>
<text x="66" y="332.5" text-anchor="middle" class="t">0.0</text>
<text transform="translate(42.6,296.5) rotate(-90)" text-anchor="middle" class="t">0.0</text>
<text x="113.3" y="332.5" text-anchor="middle" class="t">0.2</text>
<text transform="translate(42.6,250.5) rotate(-90)" text-anchor="middle" class="t">0.2</text>
<text x="160.6" y="332.5" text-anchor="middle" class="t">0.4</text>
<text transform="translate(42.6,204.4) rotate(-90)" text-anchor="middle" class="t">0.4</text>
<text x="208" y="332.5" text-anchor="middle" class="t">0.6</text>
<text transform="translate(42.6,158.4) rotate(-90)" text-anchor="middle" class="t">0.6</text>
<text x="255.3" y="332.5" text-anchor="middle" class="t">0.8</text>
<text transform="translate(42.6,112.3) rotate(-90)" text-anchor="middle" class="t">0.8</text>
<g transform="translate(302.6,332.5) rotate(0)"><path d="M-8.3,-6.1L-4.7,-8.55V0" fill="none" stroke="#3a3a3a" stroke-width="1.05" stroke-linejoin="round"/><text x="-1.67" y="0" class="t">.0</text></g>
<g transform="translate(42.6,66.3) rotate(-90)"><path d="M-8.3,-6.1L-4.7,-8.55V0" fill="none" stroke="#3a3a3a" stroke-width="1.05" stroke-linejoin="round"/><text x="-1.67" y="0" class="t">.0</text></g>
<text x="185" y="360.7" text-anchor="middle" class="t">False Positive Rate (FPR)</text>
<text transform="translate(14.7,181.9) rotate(-90)" text-anchor="middle" class="t" textLength="139" lengthAdjust="spacing">True Positive Rate (TPR)</text>
<text x="185" y="34.5" text-anchor="middle" class="b">(c) 4X</text>
<line x1="210.8" x2="222.9" y1="218.2" y2="218.2" stroke="#d03030" stroke-width="1"/>
<circle cx="216.8" cy="218.2" r="2.5" fill="#f00808"/>
<text x="230" y="223.4" class="t" textLength="27.6" lengthAdjust="spacingAndGlyphs">stage</text><g transform="translate(0,223.4)"><path d="M262.8,-6.1L266.4,-8.55V0" fill="none" stroke="#3a3a3a" stroke-width="1.05" stroke-linejoin="round"/></g>
<line x1="210.8" x2="222.9" y1="232.8" y2="232.8" stroke="#20b020" stroke-width="1"/>
<circle cx="216.8" cy="232.8" r="2.5" fill="#00d000"/>
<text x="230" y="238" class="t" textLength="27.6" lengthAdjust="spacingAndGlyphs">stage</text><text x="268.2" y="238" class="t" text-anchor="end">2</text>
<line x1="210.8" x2="222.9" y1="247.0" y2="247.0" stroke="#101090" stroke-width="1"/>
<circle cx="216.8" cy="247.0" r="2.5" fill="#0000e8"/>
<text x="230" y="252.2" class="t" textLength="27.6" lengthAdjust="spacingAndGlyphs">stage</text><text x="268.2" y="252.2" class="t" text-anchor="end">3</text>
<line x1="210.8" x2="222.9" y1="261.5" y2="261.5" stroke="#50e0ec" stroke-width="1"/>
<circle cx="216.8" cy="261.5" r="2.5" fill="#10f0f8"/>
<text x="230" y="266.7" class="t" textLength="27.6" lengthAdjust="spacingAndGlyphs">stage</text><text x="268.2" y="266.7" class="t" text-anchor="end">4</text>
<line x1="210.8" x2="222.9" y1="276.1" y2="276.1" stroke="#e070e8" stroke-width="1"/>
<circle cx="216.8" cy="276.1" r="2.5" fill="#f010f0"/>
<text x="230" y="281.3" class="t" textLength="27.6" lengthAdjust="spacingAndGlyphs">stage</text><text x="268.2" y="281.3" class="t" text-anchor="end">5</text>
</g>
<g transform="translate(342.5,377.2)">
<polyline fill="none" stroke="#d03030" stroke-width="0.85" points="66.8,296.5 66.6,293.7 67,278.5 67.4,265.2 67.9,253.8 68.3,246.2 68.9,238.6 69.8,231 71.2,223.4 72.3,217.8 73.6,210.2 75.5,202.6 78,194 80.3,188.3 85,182.6 87.9,177.3 92.6,169.7 97.9,162.5 105.5,154.9 114.8,146 128.1,135 145.4,124.2 169.8,108 206.3,93.4 263.6,76.7 303.2,65.8"/>
<g fill="#e00808"><circle cx="66.8" cy="296.5" r="1.55"/><circle cx="66.6" cy="293.7" r="1.55"/><circle cx="67" cy="278.5" r="1.55"/><circle cx="67.4" cy="265.2" r="1.55"/><circle cx="67.9" cy="253.8" r="1.55"/><circle cx="68.3" cy="246.2" r="1.55"/><circle cx="68.9" cy="238.6" r="1.55"/><circle cx="69.8" cy="231" r="1.55"/><circle cx="71.2" cy="223.4" r="1.55"/><circle cx="72.3" cy="217.8" r="1.55"/><circle cx="73.6" cy="210.2" r="1.55"/><circle cx="75.5" cy="202.6" r="1.55"/><circle cx="78" cy="194" r="1.55"/><circle cx="80.3" cy="188.3" r="1.55"/><circle cx="85" cy="182.6" r="1.55"/><circle cx="87.9" cy="177.3" r="1.55"/><circle cx="92.6" cy="169.7" r="1.55"/><circle cx="97.9" cy="162.5" r="1.55"/><circle cx="105.5" cy="154.9" r="1.55"/><circle cx="114.8" cy="146" r="1.55"/><circle cx="128.1" cy="135" r="1.55"/><circle cx="145.4" cy="124.2" r="1.55"/><circle cx="169.8" cy="108" r="1.55"/><circle cx="206.3" cy="93.4" r="1.55"/><circle cx="263.6" cy="76.7" r="1.55"/><circle cx="303.2" cy="65.8" r="1.55"/></g>
<polyline fill="none" stroke="#20b020" stroke-width="0.85" points="66.8,296.5 66.6,293.7 67,278.5 67,265.2 67.4,257.6 68,250 68.5,242.4 69.3,234.8 70.2,227.2 71.2,219.6 72.7,212.1 74.6,204.5 76.5,195.9 78.8,188.3 80.8,182.6 85,176.7 88.8,169.7 94.1,160.2 102.5,149.8 113.5,139 128.1,124.2 150.5,109 187.7,94.4 254.1,76.7 303.2,65.8"/>
<g fill="#00c000"><circle cx="66.8" cy="296.5" r="1.55"/><circle cx="66.6" cy="293.7" r="1.55"/><circle cx="67" cy="278.5" r="1.55"/><circle cx="67" cy="265.2" r="1.55"/><circle cx="67.4" cy="257.6" r="1.55"/><circle cx="68" cy="250" r="1.55"/><circle cx="68.5" cy="242.4" r="1.55"/><circle cx="69.3" cy="234.8" r="1.55"/><circle cx="70.2" cy="227.2" r="1.55"/><circle cx="71.2" cy="219.6" r="1.55"/><circle cx="72.7" cy="212.1" r="1.55"/><circle cx="74.6" cy="204.5" r="1.55"/><circle cx="76.5" cy="195.9" r="1.55"/><circle cx="78.8" cy="188.3" r="1.55"/><circle cx="80.8" cy="182.6" r="1.55"/><circle cx="85" cy="176.7" r="1.55"/><circle cx="88.8" cy="169.7" r="1.55"/><circle cx="94.1" cy="160.2" r="1.55"/><circle cx="102.5" cy="149.8" r="1.55"/><circle cx="113.5" cy="139" r="1.55"/><circle cx="128.1" cy="124.2" r="1.55"/><circle cx="150.5" cy="109" r="1.55"/><circle cx="187.7" cy="94.4" r="1.55"/><circle cx="254.1" cy="76.7" r="1.55"/><circle cx="303.2" cy="65.8" r="1.55"/></g>
<polyline fill="none" stroke="#101090" stroke-width="0.85" points="66.8,296.5 66.5,164.3 66.5,159.9 66.5,155.6 66.6,151.2 66.6,146.8 66.6,142.4 66.6,138.1 66.6,133.7 66.7,129.3 66.7,124.9 66.7,120.5 66.7,116.2 66.7,111.8 66.7,107.4 66.8,103 66.8,98.7 66.8,94.3 67.4,89.1 68.3,83.4 69.3,80.5 70.4,78.6 72.3,76.7 75.1,75.4 77.4,74.8 80.6,73.9 85.4,72.9 91.1,71.6 98.9,70.7 110.1,69.5 126.8,69.5 152.4,69.1 193,67.6 257.5,66.3 303.2,65.8"/>
<g fill="#0000d8"><circle cx="66.8" cy="296.5" r="1.55"/><circle cx="66.5" cy="164.3" r="1.55"/><circle cx="66.5" cy="159.9" r="1.55"/><circle cx="66.5" cy="155.6" r="1.55"/><circle cx="66.6" cy="151.2" r="1.55"/><circle cx="66.6" cy="146.8" r="1.55"/><circle cx="66.6" cy="142.4" r="1.55"/><circle cx="66.6" cy="138.1" r="1.55"/><circle cx="66.6" cy="133.7" r="1.55"/><circle cx="66.7" cy="129.3" r="1.55"/><circle cx="66.7" cy="124.9" r="1.55"/><circle cx="66.7" cy="120.5" r="1.55"/><circle cx="66.7" cy="116.2" r="1.55"/><circle cx="66.7" cy="111.8" r="1.55"/><circle cx="66.7" cy="107.4" r="1.55"/><circle cx="66.8" cy="103" r="1.55"/><circle cx="66.8" cy="98.7" r="1.55"/><circle cx="66.8" cy="94.3" r="1.55"/><circle cx="67.4" cy="89.1" r="1.55"/><circle cx="68.3" cy="83.4" r="1.55"/><circle cx="69.3" cy="80.5" r="1.55"/><circle cx="70.4" cy="78.6" r="1.55"/><circle cx="72.3" cy="76.7" r="1.55"/><circle cx="75.1" cy="75.4" r="1.55"/><circle cx="77.4" cy="74.8" r="1.55"/><circle cx="80.6" cy="73.9" r="1.55"/><circle cx="85.4" cy="72.9" r="1.55"/><circle cx="91.1" cy="71.6" r="1.55"/><circle cx="98.9" cy="70.7" r="1.55"/><circle cx="110.1" cy="69.5" r="1.55"/><circle cx="126.8" cy="69.5" r="1.55"/><circle cx="152.4" cy="69.1" r="1.55"/><circle cx="193" cy="67.6" r="1.55"/><circle cx="257.5" cy="66.3" r="1.55"/><circle cx="303.2" cy="65.8" r="1.55"/></g>
<polyline fill="none" stroke="#50e0ec" stroke-width="0.85" points="66.8,296.5 66.3,249.3 66.3,244.8 66.3,240.4 66.3,235.9 66.3,231.5 66.3,227.1 66.3,222.6 66.3,218.2 66.3,213.7 66.3,209.2 66.3,204.8 66.3,200.3 66.3,195.9 66.3,191.4 66.3,187 66.3,182.6 66.3,178.1 66.3,173.7 66.3,169.2 66.3,164.8 66.3,160.3 66.4,155.8 66.4,151.4 66.4,146.9 66.4,142.5 66.4,138.1 66.4,133.6 66.4,129.2 66.4,124.7 66.4,120.2 66.4,115.8 66.4,111.3 66.4,106.9 66.4,102.5 66.4,98 66.4,93.5 66.4,89.1 66.4,84.7 66.4,80.2 66.4,75.8 66.4,71.3 66.6,68.2 70,66.8 76,66.1 87.9,65.7 98.3,65.7 115,65.5 143.5,65.5 187.7,65.7 242,65.7 303.2,65.8"/>
<g fill="#72d4ee"><circle cx="66.8" cy="296.5" r="1.3"/><circle cx="66.3" cy="249.3" r="1.3"/><circle cx="66.3" cy="244.8" r="1.3"/><circle cx="66.3" cy="240.4" r="1.3"/><circle cx="66.3" cy="235.9" r="1.3"/><circle cx="66.3" cy="231.5" r="1.3"/><circle cx="66.3" cy="227.1" r="1.3"/><circle cx="66.3" cy="222.6" r="1.3"/><circle cx="66.3" cy="218.2" r="1.3"/><circle cx="66.3" cy="213.7" r="1.3"/><circle cx="66.3" cy="209.2" r="1.3"/><circle cx="66.3" cy="204.8" r="1.3"/><circle cx="66.3" cy="200.3" r="1.3"/><circle cx="66.3" cy="195.9" r="1.3"/><circle cx="66.3" cy="191.4" r="1.3"/><circle cx="66.3" cy="187" r="1.3"/><circle cx="66.3" cy="182.6" r="1.3"/><circle cx="66.3" cy="178.1" r="1.3"/><circle cx="66.3" cy="173.7" r="1.3"/><circle cx="66.3" cy="169.2" r="1.3"/><circle cx="66.3" cy="164.8" r="1.3"/><circle cx="66.3" cy="160.3" r="1.3"/><circle cx="66.4" cy="155.8" r="1.3"/><circle cx="66.4" cy="151.4" r="1.3"/><circle cx="66.4" cy="146.9" r="1.3"/><circle cx="66.4" cy="142.5" r="1.3"/><circle cx="66.4" cy="138.1" r="1.3"/><circle cx="66.4" cy="133.6" r="1.3"/><circle cx="66.4" cy="129.2" r="1.3"/><circle cx="66.4" cy="124.7" r="1.3"/><circle cx="66.4" cy="120.2" r="1.3"/><circle cx="66.4" cy="115.8" r="1.3"/><circle cx="66.4" cy="111.3" r="1.3"/><circle cx="66.4" cy="106.9" r="1.3"/><circle cx="66.4" cy="102.5" r="1.3"/></g>
<g fill="#10e0f0"><circle cx="66.4" cy="98" r="1.55"/><circle cx="66.4" cy="93.5" r="1.55"/><circle cx="66.4" cy="89.1" r="1.55"/><circle cx="66.4" cy="84.7" r="1.55"/><circle cx="66.4" cy="80.2" r="1.55"/><circle cx="66.4" cy="75.8" r="1.55"/><circle cx="66.4" cy="71.3" r="1.55"/><circle cx="66.6" cy="68.2" r="1.55"/><circle cx="70" cy="66.8" r="1.55"/><circle cx="76" cy="66.1" r="1.55"/><circle cx="87.9" cy="65.7" r="1.55"/><circle cx="98.3" cy="65.7" r="1.55"/><circle cx="115" cy="65.5" r="1.55"/><circle cx="143.5" cy="65.5" r="1.55"/><circle cx="187.7" cy="65.7" r="1.55"/><circle cx="242" cy="65.7" r="1.55"/><circle cx="303.2" cy="65.8" r="1.55"/></g>
<polyline fill="none" stroke="#e070e8" stroke-width="0.85" points="66.7,65.3 303.2,65.8"/>
<g fill="#e010e0"><circle cx="66.8" cy="296.5" r="1.55"/><circle cx="66.4" cy="65.3" r="1.55"/><circle cx="71.6" cy="65.3" r="1.55"/><circle cx="76.7" cy="65.3" r="1.55"/><circle cx="81.7" cy="65.3" r="1.55"/><circle cx="93.1" cy="65.3" r="1.55"/><circle cx="103.1" cy="65.3" r="1.55"/><circle cx="303.2" cy="65.8" r="1.55"/></g>
<line x1="66.7" y1="296.5" x2="66.7" y2="118" stroke="#8088e6" stroke-width="1.5"/>
<line x1="66.7" y1="118" x2="66.7" y2="66" stroke="#c888d8" stroke-width="1.3"/>
<line x1="67.2" y1="296.3" x2="67.3" y2="252" stroke="#6f9f6f" stroke-width="2.2"/>
<line x1="57.5" y1="306.0" x2="312.5" y2="57.5" stroke="#1a1a1a" stroke-width="0.8"/>
<path d="M66.8 306V313M49.9 296.5H57.5M114.1 306V313M49.9 250.5H57.5M161.4 306V313M49.9 204.4H57.5M208.8 306V313M49.9 158.4H57.5M256.1 306V313M49.9 112.3H57.5M303.4 306V313M49.9 66.3H57.5" stroke="#000" stroke-width="1.1" fill="none"/>
<text x="66" y="332.5" text-anchor="middle" class="t">0.0</text>
<text transform="translate(42.6,296.5) rotate(-90)" text-anchor="middle" class="t">0.0</text>
<text x="113.3" y="332.5" text-anchor="middle" class="t">0.2</text>
<text transform="translate(42.6,250.5) rotate(-90)" text-anchor="middle" class="t">0.2</text>
<text x="160.6" y="332.5" text-anchor="middle" class="t">0.4</text>
<text transform="translate(42.6,204.4) rotate(-90)" text-anchor="middle" class="t">0.4</text>
<text x="208" y="332.5" text-anchor="middle" class="t">0.6</text>
<text transform="translate(42.6,158.4) rotate(-90)" text-anchor="middle" class="t">0.6</text>
<text x="255.3" y="332.5" text-anchor="middle" class="t">0.8</text>
<text transform="translate(42.6,112.3) rotate(-90)" text-anchor="middle" class="t">0.8</text>
<g transform="translate(302.6,332.5) rotate(0)"><path d="M-8.3,-6.1L-4.7,-8.55V0" fill="none" stroke="#3a3a3a" stroke-width="1.05" stroke-linejoin="round"/><text x="-1.67" y="0" class="t">.0</text></g>
<g transform="translate(42.6,66.3) rotate(-90)"><path d="M-8.3,-6.1L-4.7,-8.55V0" fill="none" stroke="#3a3a3a" stroke-width="1.05" stroke-linejoin="round"/><text x="-1.67" y="0" class="t">.0</text></g>
<text x="185" y="360.7" text-anchor="middle" class="t">False Positive Rate (FPR)</text>
<text transform="translate(14.7,181.9) rotate(-90)" text-anchor="middle" class="t" textLength="139" lengthAdjust="spacing">True Positive Rate (TPR)</text>
<text x="185" y="34.5" text-anchor="middle" class="b">(d) 5X</text>
<line x1="210.8" x2="222.9" y1="218.2" y2="218.2" stroke="#d03030" stroke-width="1"/>
<circle cx="216.8" cy="218.2" r="2.5" fill="#f00808"/>
<text x="230" y="223.4" class="t" textLength="27.6" lengthAdjust="spacingAndGlyphs">stage</text><g transform="translate(0,223.4)"><path d="M262.8,-6.1L266.4,-8.55V0" fill="none" stroke="#3a3a3a" stroke-width="1.05" stroke-linejoin="round"/></g>
<line x1="210.8" x2="222.9" y1="232.8" y2="232.8" stroke="#20b020" stroke-width="1"/>
<circle cx="216.8" cy="232.8" r="2.5" fill="#00d000"/>
<text x="230" y="238" class="t" textLength="27.6" lengthAdjust="spacingAndGlyphs">stage</text><text x="268.2" y="238" class="t" text-anchor="end">2</text>
<line x1="210.8" x2="222.9" y1="247.0" y2="247.0" stroke="#101090" stroke-width="1"/>
<circle cx="216.8" cy="247.0" r="2.5" fill="#0000e8"/>
<text x="230" y="252.2" class="t" textLength="27.6" lengthAdjust="spacingAndGlyphs">stage</text><text x="268.2" y="252.2" class="t" text-anchor="end">3</text>
<line x1="210.8" x2="222.9" y1="261.5" y2="261.5" stroke="#50e0ec" stroke-width="1"/>
<circle cx="216.8" cy="261.5" r="2.5" fill="#10f0f8"/>
<text x="230" y="266.7" class="t" textLength="27.6" lengthAdjust="spacingAndGlyphs">stage</text><text x="268.2" y="266.7" class="t" text-anchor="end">4</text>
<line x1="210.8" x2="222.9" y1="276.1" y2="276.1" stroke="#e070e8" stroke-width="1"/>
<circle cx="216.8" cy="276.1" r="2.5" fill="#f010f0"/>
<text x="230" y="281.3" class="t" textLength="27.6" lengthAdjust="spacingAndGlyphs">stage</text><text x="268.2" y="281.3" class="t" text-anchor="end">5</text>
</g>
<line x1="57.5" y1="57" x2="57.5" y2="306.5" stroke="#000" stroke-width="1"/><line x1="57" y1="57.5" x2="313.2" y2="57.5" stroke="#000" stroke-width="1"/><line x1="312.6" y1="57" x2="312.6" y2="306.5" stroke="#727272" stroke-width="1"/><line x1="57" y1="306.0" x2="313.2" y2="306.0" stroke="#404040" stroke-width="1"/><line x1="400.0" y1="57" x2="400.0" y2="306.5" stroke="#404040" stroke-width="1"/><line x1="399.5" y1="57.5" x2="656" y2="57.5" stroke="#000" stroke-width="1"/><line x1="655.5" y1="57" x2="655.5" y2="306.5" stroke="#303030" stroke-width="1"/><line x1="399.5" y1="305.9" x2="656" y2="305.9" stroke="#404040" stroke-width="1"/><line x1="57.5" y1="433.5" x2="57.5" y2="683" stroke="#000" stroke-width="1"/><line x1="57" y1="434.0" x2="313.2" y2="434.0" stroke="#404040" stroke-width="1"/><line x1="312.6" y1="433.5" x2="312.6" y2="683" stroke="#727272" stroke-width="1"/><line x1="57" y1="682.5" x2="313.2" y2="682.5" stroke="#000" stroke-width="1"/><line x1="400.0" y1="433.5" x2="400.0" y2="683" stroke="#404040" stroke-width="1"/><line x1="399.5" y1="433.9" x2="656" y2="433.9" stroke="#404040" stroke-width="1"/><line x1="655.5" y1="433.5" x2="655.5" y2="683" stroke="#303030" stroke-width="1"/><line x1="399.5" y1="682.5" x2="656" y2="682.5" stroke="#000" stroke-width="1"/>
</g>
</svg>
</body></html>
